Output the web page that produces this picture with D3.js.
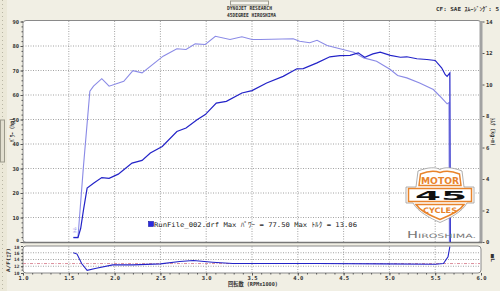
<!DOCTYPE html>
<html>
<head>
<meta charset="utf-8">
<script src="https://cdn.jsdelivr.net/npm/d3@7"></script>
<style>
  body { margin: 0; background: #f1efe4; }
  svg { display: block; }
</style>
</head>
<body>
<div id="chart"></div>
<script>
// power curve: [rpm x1000, hp]
const powerCurve = [
  [1.55, 1.8], [1.60, 1.8], [1.63, 5.6], [1.66, 13], [1.70, 22], [1.77, 24],
  [1.86, 26.3], [1.94, 26], [2.04, 27.7], [2.10, 29.5], [2.19, 32.2], [2.30, 33.3],
  [2.39, 36.3], [2.52, 39], [2.68, 45.1], [2.78, 46.5], [2.90, 49.9], [2.99, 52],
  [3.11, 56.7], [3.22, 57.4], [3.39, 60.8], [3.50, 61.8], [3.66, 64.9], [3.84, 67.6],
  [3.99, 70.7], [4.06, 70.8], [4.21, 73.1], [4.35, 75.6], [4.46, 76.1], [4.57, 76.2],
  [4.66, 77.2], [4.73, 75.4], [4.82, 76.8], [4.90, 77.5], [5.01, 76.2], [5.12, 75.4],
  [5.19, 75.6], [5.30, 74.8], [5.41, 74.5], [5.50, 74.1], [5.57, 71.1], [5.61, 68.3],
  [5.63, 67.6], [5.66, 69], [5.665, 0]
];
// torque curve: [rpm x1000, kg-m]
const torqueCurve = [
  [1.55, 0.3], [1.60, 0.3], [1.66, 4.8], [1.73, 9.57], [1.77, 9.9], [1.86, 10.37],
  [1.94, 9.89], [2.10, 10.2], [2.20, 10.88], [2.30, 10.74], [2.53, 11.8], [2.68, 12.27],
  [2.78, 12.22], [2.88, 12.58], [2.99, 12.54], [3.10, 13.06], [3.26, 12.86], [3.39, 13.03],
  [3.50, 12.86], [3.59, 12.86], [3.95, 12.9], [4.02, 12.75], [4.13, 12.65], [4.21, 12.81],
  [4.32, 12.48], [4.46, 12.27], [4.61, 12.05], [4.72, 11.69], [4.86, 11.48], [5.01, 10.95],
  [5.09, 10.57], [5.19, 10.42], [5.33, 10.1], [5.48, 9.68], [5.57, 9.15], [5.63, 8.77],
  [5.65, 8.85], [5.655, 0]
];
// air/fuel: [rpm x1000, ratio]
const afCurve = [
  [1.55, 16.0], [1.59, 15.6], [1.64, 12.8], [1.70, 10.8], [1.80, 11.4], [1.98, 12.4],
  [2.20, 12.4], [2.50, 12.7], [2.71, 13.4], [2.86, 13.7], [3.07, 13.2], [3.29, 12.8],
  [3.48, 12.8], [4.21, 12.8], [4.93, 12.7], [5.50, 12.6], [5.59, 12.8], [5.64, 14.8],
  [5.66, 17.8]
];
const afTarget = 12.8;

const rpmTicks = [1.0, 1.5, 2.0, 2.5, 3.0, 3.5, 4.0, 4.5, 5.0, 5.5, 6.0];
const hpTicks = [0, 10, 20, 30, 40, 50, 60, 70, 80, 90];
const kgmTicks = [0, 2, 4, 6, 8, 10, 12, 14];
const afTicks = [10, 12, 14, 16, 18];
const afGrid = [12, 14, 16];

const headerLines = ['DYNOJET RESEARCH', '45DEGREE HIROSHIMA'];
const headerRight = 'CF: SAE ｽﾑｰｼﾞﾝｸﾞ: 5';
const legendText = 'RunFile_002.drf Max ﾊﾟﾜｰ = 77.50   Max ﾄﾙｸ = 13.06';

const W = 500, H = 291;
const mono = '"DejaVu Sans Mono", "Noto Sans CJK JP", monospace';
const powerColor = '#2323c8', torqueColor = '#8a8ae6';

const svg = d3.select('#chart').append('svg')
  .attr('width', W).attr('height', H);

// window chrome
svg.append('rect').attr('x', 0).attr('y', 0).attr('width', W).attr('height', H)
  .attr('fill', '#f1efe4');
svg.append('rect').attr('x', 0).attr('y', 0).attr('width', 7).attr('height', H)
  .attr('fill', '#ebe8d8');
svg.append('line').attr('x1', 2.5).attr('x2', 2.5).attr('y1', 0).attr('y2', H)
  .attr('stroke', '#b9b6a4').attr('stroke-dasharray', '1,3');
svg.append('rect').attr('x', 0.5).attr('y', 120).attr('width', 4).attr('height', 42)
  .attr('fill', '#e2dfd0').attr('stroke', '#9c9a8c');
svg.append('rect').attr('x', 230.5).attr('y', 1).attr('width', 38).attr('height', 4)
  .attr('fill', '#f6f5ee').attr('stroke', '#9c9a8c');

// scales
const x = d3.scaleLinear().domain([1, 6]).range([23, 481]);
const yP = d3.scaleLinear().domain([0, 90]).range([242, 21.5]);
const yT = d3.scaleLinear().domain([0, 14]).range([242, 21.5]);
const yA = d3.scaleLinear().domain([10, 18]).range([273, 246]);

// panels
svg.append('rect').attr('x', 23).attr('y', 20.5).attr('width', 458).attr('height', 222)
  .attr('rx', 3).attr('fill', '#fff').attr('stroke', '#8a8a8a');
svg.append('rect').attr('x', 479.5).attr('y', 21).attr('width', 3).attr('height', 222)
  .attr('fill', '#a2a2a2');
svg.append('line').attr('x1', 23).attr('x2', 482).attr('y1', 242.5).attr('y2', 242.5)
  .attr('stroke', '#777').attr('stroke-width', 1.5);
svg.append('rect').attr('x', 23).attr('y', 246).attr('width', 458).attr('height', 27)
  .attr('rx', 3).attr('fill', '#fff').attr('stroke', '#8a8a8a');

// grid
const grid = svg.append('g').attr('stroke', '#8c8c8c').attr('stroke-dasharray', '1,1.5')
  .attr('stroke-width', 0.8);
rpmTicks.slice(1, -1).forEach(r => {
  grid.append('line').attr('x1', x(r)).attr('x2', x(r)).attr('y1', 21).attr('y2', 242);
  grid.append('line').attr('x1', x(r)).attr('x2', x(r)).attr('y1', 246.5).attr('y2', 272.5);
});
hpTicks.slice(1, -1).forEach(v => {
  grid.append('line').attr('x1', 23).attr('x2', 480).attr('y1', yP(v)).attr('y2', yP(v));
});
afGrid.forEach(v => {
  grid.append('line').attr('x1', 23).attr('x2', 480).attr('y1', yA(v)).attr('y2', yA(v));
});
svg.append('line').attr('x1', 23).attr('x2', 480)
  .attr('y1', yA(afTarget)).attr('y2', yA(afTarget))
  .attr('stroke', '#d07080').attr('stroke-width', 0.8).attr('stroke-dasharray', '3,1.5,1,1.5');

// axes
const styleAxis = (g, size) => {
  g.select('.domain').remove();
  g.selectAll('line').attr('stroke', '#555');
  g.selectAll('text').attr('font-family', mono).attr('font-size', size)
    .attr('font-weight', 'bold').attr('fill', '#333');
};
svg.append('g').attr('transform', 'translate(23,0)')
  .call(d3.axisLeft(yP).tickValues(d3.range(0, 91, 2)).tickSize(1.5).tickFormat(''))
  .call(g => styleAxis(g, 5));
svg.append('g').attr('transform', 'translate(23,0)')
  .call(d3.axisLeft(yP).tickValues(hpTicks).tickSize(2.5).tickPadding(1.5))
  .call(g => styleAxis(g, 5.5))
  .call(g => g.selectAll('.tick text').filter(d => d === 0)
    .attr('font-size', 4.5).attr('dy', '-0.1em'));
svg.append('g').attr('transform', 'translate(482.5,0)')
  .call(d3.axisRight(yT).tickValues(kgmTicks).tickSize(2).tickPadding(1.5))
  .call(g => styleAxis(g, 5.5));
svg.append('g').attr('transform', 'translate(23,0)')
  .call(d3.axisLeft(yA).tickValues(afTicks).tickSize(2).tickPadding(1.5))
  .call(g => styleAxis(g, 4.5))
  .call(g => g.selectAll('.tick text').filter(d => d === 18).attr('dy', '0.55em'));
svg.append('g').attr('transform', 'translate(23,0)')
  .call(d3.axisLeft(yA).tickValues(d3.range(10, 18.1, 1)).tickSize(1.5).tickFormat(''))
  .call(g => styleAxis(g, 5));
svg.append('g').attr('transform', 'translate(0,273)')
  .call(d3.axisBottom(x).tickValues(d3.range(1, 6.01, 0.1)).tickSize(1.5).tickFormat(''))
  .call(g => styleAxis(g, 5));
svg.append('g').attr('transform', 'translate(0,273)')
  .call(d3.axisBottom(x).tickValues(rpmTicks).tickSize(2.5).tickPadding(0.5)
    .tickFormat(d3.format('.1f')))
  .call(g => styleAxis(g, 5.5));

// axis titles
const label = (txt, tx, ty, rot, size, len) => {
  const t = svg.append('text')
    .attr('transform', `translate(${tx},${ty}) rotate(${rot})`)
    .attr('text-anchor', 'middle').attr('font-family', mono)
    .attr('font-size', size).attr('font-weight', 'bold').attr('fill', '#333')
    .text(txt);
  if (len) t.attr('textLength', len).attr('lengthAdjust', 'spacingAndGlyphs');
  return t;
};
label('ﾊﾟﾜｰ (hp)', 14, 130, -90, 6, 24);
label('ﾄﾙｸ (kg-m)', 491, 132, 90, 6, 28);
label('A/F(ｴｱ)', 10, 260, -90, 5, 24);
label('■L', 491, 258, 90, 5, 8);
label('回転数 (RPMx1000)', 253, 286, 0, 5.5, 50);

// header
headerLines.forEach((s, i) => {
  svg.append('text').attr('x', 227).attr('y', 10 + i * 6.5)
    .attr('font-family', mono).attr('font-size', 5.5).attr('font-weight', 'bold')
    .attr('fill', '#333').attr('textLength', i ? 49 : 45)
    .attr('lengthAdjust', 'spacingAndGlyphs').text(s);
});
svg.append('text').attr('x', 436).attr('y', 10.5)
  .attr('font-family', mono).attr('font-size', 5.5).attr('font-weight', 'bold')
  .attr('fill', '#333').attr('textLength', 63)
  .attr('lengthAdjust', 'spacingAndGlyphs').text(headerRight);

// curves
const line = yScale => d3.line().x(d => x(d[0])).y(d => yScale(d[1]));
svg.append('path').datum(torqueCurve).attr('d', line(yT))
  .attr('fill', 'none').attr('stroke', torqueColor).attr('stroke-width', 1.1);
svg.append('path').datum(powerCurve).attr('d', line(yP))
  .attr('fill', 'none').attr('stroke', powerColor).attr('stroke-width', 1.2);
svg.append('path').datum(afCurve).attr('d', line(yA))
  .attr('fill', 'none').attr('stroke', powerColor).attr('stroke-width', 1.1);
label('ﾄﾙ', 76, 230, -90, 4.5, 6).attr('fill', torqueColor).attr('font-weight', 'normal');

// legend
svg.append('rect').attr('x', 148.5).attr('y', 221.5).attr('width', 5).attr('height', 5)
  .attr('fill', '#2a2ae0').attr('stroke', '#1818a0').attr('stroke-width', 0.6);
svg.append('text').attr('x', 154).attr('y', 226.5)
  .attr('font-family', mono).attr('font-size', 6.5).attr('fill', '#222')
  .attr('textLength', 203).attr('lengthAdjust', 'spacingAndGlyphs').text(legendText);

// logo
const logo = svg.append('g');
const orange = '#e8842c';
logo.append('path')
  .attr('d', 'M418,171 C428,167 436,167 440,169.5 C444,167 452,167 462,171 L464,187 ' +
    'L474,187 L474,203 L467,203 C462,212 450,218 440,222.5 C430,218 418,212 413,203 ' +
    'L406,203 L406,187 L416,187 Z')
  .attr('fill', '#fff').attr('stroke', '#9a9a9a').attr('stroke-width', 0.8);
logo.append('path')
  .attr('d', 'M420.5,174 C429,170.5 436,171 440,172.5 C444,171 451,170.5 459.5,174 ' +
    'L461,185.5 L419,185.5 Z')
  .attr('fill', '#fff').attr('stroke', orange).attr('stroke-width', 1.5);
logo.append('rect').attr('x', 408.5).attr('y', 188.5).attr('width', 63).attr('height', 13)
  .attr('fill', '#fff').attr('stroke', orange).attr('stroke-width', 1.5);
logo.append('path')
  .attr('d', 'M416,204.5 L464,204.5 C460,211 450,215.5 440,219.5 C430,215.5 420,211 416,204.5 Z')
  .attr('fill', '#fff').attr('stroke', orange).attr('stroke-width', 1.5);
logo.append('text').attr('x', 421).attr('y', 183.5)
  .attr('font-family', '"DejaVu Sans Condensed", sans-serif').attr('font-size', 8.5)
  .attr('font-weight', 'bold').attr('fill', orange)
  .attr('textLength', 38).attr('lengthAdjust', 'spacingAndGlyphs').text('MOTOR');
logo.append('text').attr('x', 415).attr('y', 200)
  .attr('font-family', '"DejaVu Sans", sans-serif').attr('font-size', 12.5)
  .attr('font-weight', 'bold').attr('fill', '#111')
  .attr('textLength', 52).attr('lengthAdjust', 'spacingAndGlyphs').text('45');
logo.append('text').attr('x', 423).attr('y', 213)
  .attr('font-family', '"DejaVu Sans Condensed", sans-serif').attr('font-size', 7.5)
  .attr('font-weight', 'bold').attr('fill', orange)
  .attr('textLength', 34).attr('lengthAdjust', 'spacingAndGlyphs').text('CYCLES');
const hiro = svg.append('text').attr('x', 407).attr('y', 238)
  .attr('font-family', '"DejaVu Sans", sans-serif').attr('fill', '#777')
  .attr('textLength', 69).attr('lengthAdjust', 'spacingAndGlyphs');
hiro.append('tspan').attr('font-size', 8).text('H');
hiro.append('tspan').attr('font-size', 6).text('IROSHIMA.');
</script>
</body>
</html>
